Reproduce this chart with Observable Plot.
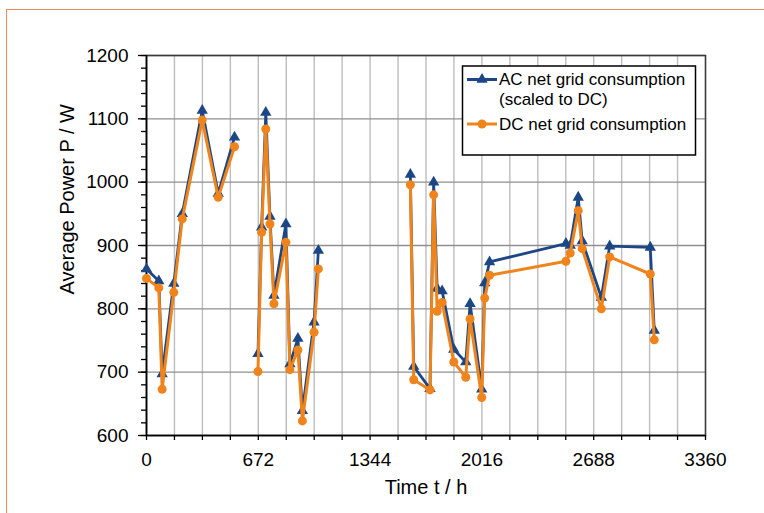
<!DOCTYPE html>
<html>
<head>
<meta charset="utf-8">
<script src="https://cdn.jsdelivr.net/npm/d3@7"></script>
<script src="https://cdn.jsdelivr.net/npm/@observablehq/plot@0.6"></script>
<style>
  html, body { margin: 0; padding: 0; background: #ffffff; }
  #wrap { position: relative; width: 764px; height: 513px; overflow: hidden; }
  #border { position: absolute; left: 6px; top: 9px; width: 900px; height: 700px;
            border-top: 1.5px solid #ee8a5c; border-left: 1.5px solid #ee8a5c; pointer-events: none; }
  #chart { position: absolute; left: 0; top: 0; }
</style>
</head>
<body>
<div id="wrap"><div id="chart"></div><div id="border"></div></div>
<script>
// ---- data ----
const time = [0, 74, 94, 164, 215, 335, 431, 529,
  670, 692, 717, 742, 766, 838, 862, 910, 937, 1007, 1033,
  1586, 1606, 1704, 1726, 1747, 1777, 1847, 1919, 1945, 2015, 2033, 2062, 2521, 2547, 2595, 2619, 2734, 2784, 3028, 3052];
const run = [1,1,1,1,1,1,1,1,
  2,2,2,2,2,2,2,2,2,2,2,
  3,3,3,3,3,3,3,3,3,3,3,3,3,3,3,3,3,3,3,3];
const acPower = [863, 844, 697, 840, 950, 1113, 982, 1071,
  729, 929, 1110, 946, 821, 934, 713, 753, 639, 779, 892,
  1012, 709, 674, 1000, 832, 828, 736, 716, 808, 673, 841, 874, 903, 900, 976, 907, 818, 899, 897, 766];
const dcPower = [848, 833, 673, 826, 942, 1098, 976, 1056,
  701, 921, 1084, 934, 808, 905, 704, 735, 623, 763, 863,
  996, 688, 672, 980, 796, 810, 716, 692, 784, 660, 817, 853, 875, 888, 955, 895, 800, 882, 855, 751];
const xTickLabels = [0, 672, 1344, 2016, 2688, 3360];
const xMinorTicks = d3.range(0, 3361, 168);
const yTickLabels = [600, 700, 800, 900, 1000, 1100, 1200];
const yMinorTicks = d3.range(600, 1201, 20);
const seriesNames = ["AC net grid consumption", "(scaled to DC)", "DC net grid consumption"];
const xLabel = "Time t / h";
const yLabel = "Average Power P / W";

const blue = "#1d4784";
const orange = "#f0841c";

const data = time.map((t, i) => ({t, run: run[i], ac: acPower[i], dc: dcPower[i]}));

const font = "'Liberation Sans', Arial, sans-serif";
const blank = () => "";

const plot = Plot.plot({
  width: 764,
  height: 513,
  marginLeft: 146,
  marginRight: 59,
  marginTop: 55,
  marginBottom: 78,
  style: {fontFamily: font, fontSize: "19px", background: "transparent", color: "#000"},
  x: {domain: [0, 3360], label: null, axis: null},
  y: {domain: [600, 1200], label: null, axis: null},
  marks: [
    Plot.gridX(xMinorTicks, {stroke: "#bdbdbd", strokeOpacity: 1, strokeWidth: 1.4}),
    Plot.gridY(yTickLabels, {stroke: "#8f8f8f", strokeOpacity: 1, strokeWidth: 1.4}),
    Plot.frame({stroke: "#3a3a3a", strokeWidth: 1.5}),
    Plot.axisX(xMinorTicks, {tickSize: 5, tickFormat: blank, stroke: "#000", strokeWidth: 1.3}),
    Plot.axisX(xTickLabels, {tickSize: 0, tickPadding: 17, fontSize: 19, tickFormat: d => String(d)}),
    Plot.axisY(yMinorTicks, {tickSize: 5, tickFormat: blank, stroke: "#000", strokeWidth: 1.3}),
    Plot.axisY(yTickLabels, {tickSize: 8, tickPadding: 10, fontSize: 19, stroke: "#000", strokeWidth: 1.3, tickFormat: d => String(d)}),
    Plot.ruleX([0], {stroke: "#000", strokeWidth: 1.6}),
    Plot.ruleY([600], {stroke: "#000", strokeWidth: 1.6}),
    Plot.line(data, {x: "t", y: "ac", z: "run", stroke: blue, strokeWidth: 2.8}),
    Plot.dot(data, {x: "t", y: "ac", symbol: "triangle", fill: blue, stroke: "none", r: 4.2}),
    Plot.line(data, {x: "t", y: "dc", z: "run", stroke: orange, strokeWidth: 3}),
    Plot.dot(data, {x: "t", y: "dc", symbol: "circle", fill: orange, stroke: "none", r: 4.5}),
    Plot.text([xLabel], {frameAnchor: "bottom", dy: 52, lineAnchor: "middle", fontSize: 20}),
    Plot.text([yLabel], {frameAnchor: "left", dx: -79, dy: 49, rotate: -90, lineAnchor: "middle", fontSize: 20})
  ]
});

// remove the empty minor-tick labels
d3.select(plot).selectAll("text").filter(function() { return this.textContent === ""; }).remove();

// legend drawn into the plot's SVG
const svg = d3.select(plot);
const lg = svg.append("g").attr("font-family", font).attr("font-size", 17).attr("text-anchor", "start");
lg.append("rect").attr("x", 462.5).attr("y", 66).attr("width", 233).attr("height", 89)
  .attr("fill", "#fff").attr("stroke", "#000").attr("stroke-width", 1.5);
const items = [
  {y: 79.5, color: blue, sym: d3.symbolTriangle, size: 55, lines: [seriesNames[0], seriesNames[1]]},
  {y: 124, color: orange, sym: d3.symbolCircle, size: 64, lines: [seriesNames[2]]}
];
items.forEach(it => {
  lg.append("line").attr("x1", 467).attr("x2", 497).attr("y1", it.y).attr("y2", it.y)
    .attr("stroke", it.color).attr("stroke-width", 3);
  lg.append("path").attr("d", d3.symbol(it.sym, it.size)()).attr("transform", `translate(482,${it.y})`)
    .attr("fill", it.color);
  it.lines.forEach((s, j) => {
    lg.append("text").attr("x", 499).attr("y", it.y + j * 19.5).attr("dy", "0.35em")
      .attr("text-anchor", "start").attr("fill", "#000").text(s);
  });
});

document.getElementById("chart").appendChild(plot);
</script>
</body>
</html>
